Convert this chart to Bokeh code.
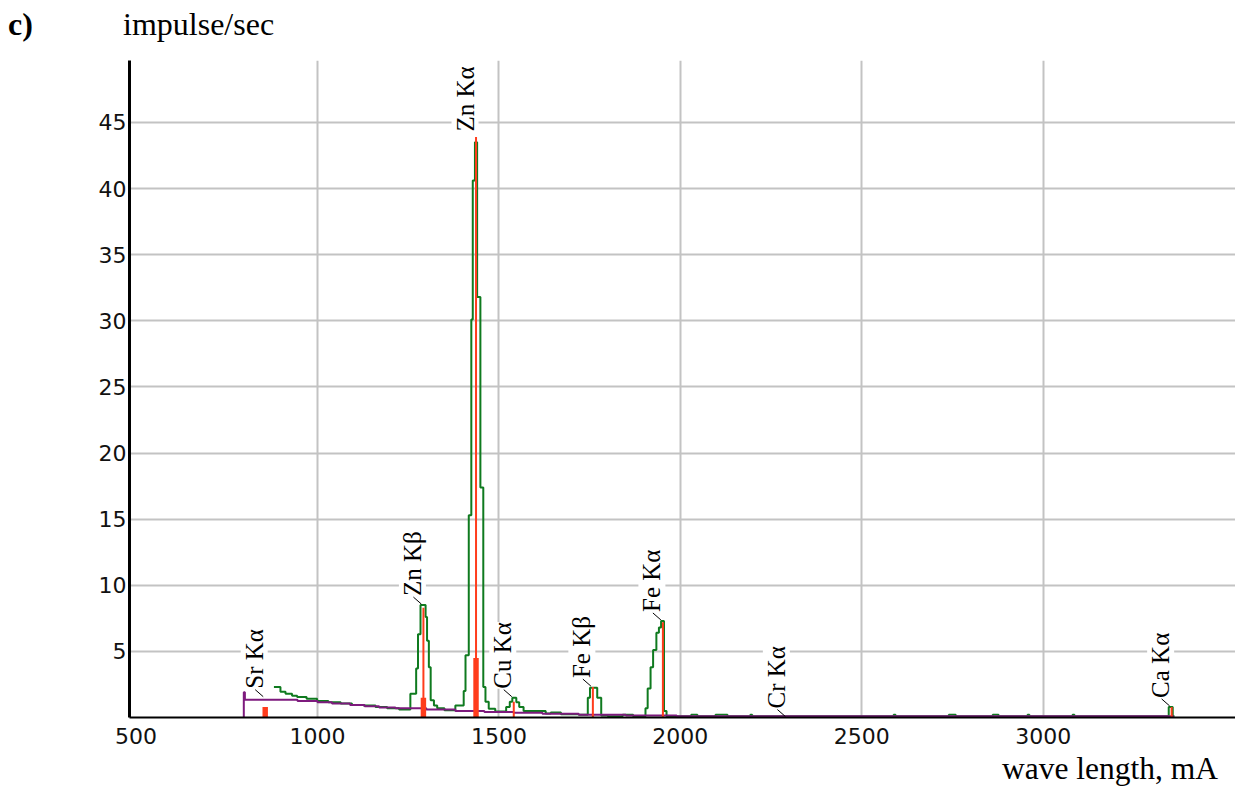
import math
from bokeh.plotting import figure
from bokeh.layouts import column
from bokeh.models import ColumnDataSource, FixedTicker, LabelSet, Range1d, Div
from bokeh.embed import file_html
from bokeh.resources import INLINE

# ---- data -------------------------------------------------------------
# measured spectrum (green step curve): wavelength (mA) where each level starts, impulse/sec
spec_wl = [880, 898, 912, 930, 944, 970, 999, 1030, 1064, 1095, 1127, 1160, 1192, 1225,
           1256, 1272, 1277, 1284, 1298, 1302, 1307, 1312, 1321, 1330, 1350,
           1380, 1403, 1408, 1417, 1424, 1428, 1434, 1440, 1449, 1457, 1463, 1472, 1490,
           1520, 1530, 1537, 1548, 1556, 1568, 1629, 1643, 1671, 1690, 1720,
           1745, 1751, 1771, 1782, 1800, 1841, 1860, 1870,
           1904, 1910, 1918, 1925, 1934, 1941, 1947, 1955, 1962,
           2030, 2047, 2097, 2130, 2193, 2198, 2588, 2593, 2740, 2759, 2861, 2877,
           2957, 2962, 3081, 3086, 3346, 3357, 3362]
spec_cps = [2.3, 1.95, 1.8, 1.65, 1.55, 1.42, 1.25, 1.15, 1.05, 0.95, 0.9, 0.8, 0.7, 0.6,
            1.8, 3.7, 6.3, 8.5, 7.6, 5.8, 3.8, 1.3, 0.9, 0.7, 0.55,
            0.9, 2.0, 4.7, 15.3, 30.1, 40.6, 43.5, 31.8, 17.4, 2.3, 1.2, 0.66, 0.45,
            0.8, 1.2, 1.5, 1.15, 0.8, 0.5, 0.3, 0.38, 0.25, 0.25, 0.2,
            1.5, 2.25, 1.5, 0.15, 0.1, 0.2, 0.2, 0.1,
            0.7, 2.2, 3.8, 5.1, 6.4, 6.8, 7.3, 0.5, 0.1,
            0.2, 0.1, 0.2, 0.1, 0.2, 0.1, 0.2, 0.1, 0.2, 0.1, 0.2, 0.1,
            0.2, 0.1, 0.2, 0.1, 0.8, 0.1, 0.1]

# background curve (purple)
bg_wl = [795, 797, 800, 945, 1000, 1040, 1090, 1130, 1170, 1215, 1300, 1380, 1460,
         1540, 1620, 1720, 1850, 1990, 3360]
bg_cps = [0, 1.9, 1.35, 1.25, 1.15, 1.05, 0.95, 0.85, 0.75, 0.7, 0.6, 0.5, 0.42,
          0.35, 0.28, 0.2, 0.15, 0.1, 0.1]

# identified lines (red): position, line height, filled-area height
line_wl = [856, 1292, 1437, 1541, 1759, 1952, 3354]
line_cps = [0.8, 8.3, 43.9, 1.2, 2.3, 7.2, 0.8]
area_cps = [0.8, 1.5, 4.5, 0, 0, 0, 0]

# peak labels
label_text = ["Sr Kα", "Zn Kβ", "Zn Kα", "Cu Kα", "Fe Kβ", "Fe Kα", "Cr Kα", "Ca Kα"]
label_wl = [856, 1292, 1437, 1541, 1759, 1952, 2295, 3354]
label_cps = [1.5, 8.5, 43.9, 1.5, 2.3, 7.3, 0.0, 0.8]

x_ticks = [500, 1000, 1500, 2000, 2500, 3000]
y_ticks = [5, 10, 15, 20, 25, 30, 35, 40, 45]

panel_letter = "c)"
y_title = "impulse/sec"
x_title = "wave length, mA"

# ---- styling ----------------------------------------------------------
GREEN = "#0f7a1f"
PURPLE = "#7d1a7d"
RED = "#ff3c1c"
GRID = "#c3c3c3"
SERIF = "'Liberation Serif', 'Times New Roman', serif"

TOP_H, BOT_H = 52, 32
BL, BR, BT, BB = 129, 0, 8, 38
FW, FH = 1106, 657
W, H = BL + FW + BR, BT + FH + BB
X0, X1 = 482, 3530
Y0, Y1 = 0, 49.68
ppx = FW / (X1 - X0)
ppy = FH / (Y1 - Y0)

p = figure(width=W, height=H, x_range=Range1d(X0, X1), y_range=Range1d(Y0, Y1),
           output_backend="svg", toolbar_location=None, margin=0,
           min_border_left=BL, min_border_right=BR, min_border_top=BT, min_border_bottom=BB)
p.outline_line_color = None
p.background_fill_color = "white"
p.border_fill_color = "white"

for ax in (p.xaxis[0], p.yaxis[0]):
    ax.major_tick_line_color = None
    ax.minor_tick_line_color = None
    ax.major_tick_in = 0
    ax.major_tick_out = 0
    ax.axis_line_color = "black"
    ax.major_label_text_font = "DejaVu Sans"
    ax.major_label_text_font_size = "22px"
    ax.major_label_text_color = "#111111"
p.xaxis.ticker = FixedTicker(ticks=x_ticks)
p.yaxis.ticker = FixedTicker(ticks=y_ticks)
p.xaxis.axis_line_width = 2
p.yaxis.axis_line_width = 3
p.xaxis.major_label_standoff = 10
p.yaxis.major_label_standoff = 3

p.xgrid.ticker = FixedTicker(ticks=[t for t in x_ticks if t > X0 + 50])
p.ygrid.ticker = FixedTicker(ticks=y_ticks)
p.xgrid.grid_line_color = GRID
p.ygrid.grid_line_color = GRID
p.xgrid.grid_line_width = 2
p.ygrid.grid_line_width = 2

# ---- glyphs -----------------------------------------------------------
p.step(spec_wl, spec_cps, mode="after", line_color=GREEN, line_width=2)
p.step(bg_wl, bg_cps, mode="after", line_color=PURPLE, line_width=2)
p.vbar(x=line_wl, top=area_cps, width=15, fill_color=RED, line_color=None)
p.segment(x0=line_wl, y0=[0] * len(line_wl), x1=line_wl, y1=line_cps,
          line_color=RED, line_width=2)

# labels (capped so they stay inside the frame)
label_len_px = 80
cap = Y1 - label_len_px / ppy
ly = [min(h, cap) for h in label_cps]
lab_src = ColumnDataSource(dict(x=label_wl, y=ly, t=label_text))
p.add_layout(LabelSet(x="x", y="y", text="t", source=lab_src, angle=math.pi / 2,
                      x_offset=-11, y_offset=9, text_align="left", text_baseline="middle",
                      text_font="Liberation Serif", text_font_size="25px",
                      text_color="black", background_fill_color="white"))

# leader lines from label to peak
lx0, ly0, lx1, ly1 = [], [], [], []
for x, h, y in zip(label_wl, label_cps, ly):
    if y < h:
        continue
    lx0.append(x - 10 / ppx)
    ly0.append(h + 8 / ppy)
    lx1.append(x - 2 / ppx)
    ly1.append(h + 1 / ppy)
p.segment(x0=lx0, y0=ly0, x1=lx1, y1=ly1, line_color="black", line_width=1)

# ---- texts outside the plot -------------------------------------------
top = Div(
    text=(f'<div style="padding:8px 0 0 8px; white-space:nowrap; line-height:32px;">'
          f'<span style="display:inline-block; width:115px; font-weight:bold;">{panel_letter}</span>'
          f'{y_title}</div>'),
    width=W, height=TOP_H, margin=0,
    styles={"font-family": SERIF, "font-size": "32px", "color": "black"})
bottom = Div(
    text=(f'<div style="box-sizing:border-box; position:relative; top:-9px; padding:0; '
          f'text-align:right; white-space:nowrap; line-height:28px; font-size:31.5px; '
          f'width:1218px;">{x_title}</div>'),
    width=W, height=BOT_H, margin=0,
    styles={"font-family": SERIF, "font-size": "32px", "color": "black"})

layout = column(top, p, bottom, spacing=0, margin=0)
open("out.html", "w").write(file_html(layout, INLINE))
